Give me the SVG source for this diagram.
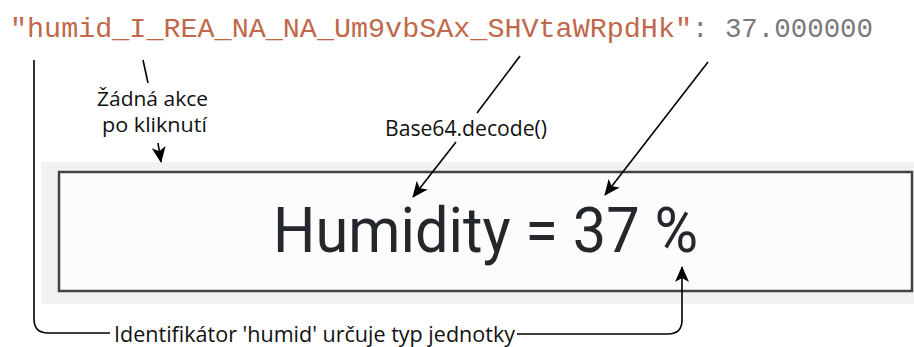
<svg xmlns="http://www.w3.org/2000/svg" width="914" height="347" viewBox="0 0 914 347">
<style>
.code{font-family:"Liberation Mono","DejaVu Sans Mono",monospace;font-size:28px}
.lbl{font-family:"Open Sans","Noto Sans",sans-serif;font-size:22px;fill:#111}
.sm{font-size:20px}
.con{fill:none;stroke:#000;stroke-width:1.6}
</style>
<defs>
<marker id="ah" viewBox="0 0 16 16" refX="15" refY="8" markerWidth="16" markerHeight="16" markerUnits="userSpaceOnUse" orient="auto">
<path d="M0,1 L16,8 L0,15 L4,8 Z" fill="#000"/>
</marker>
</defs>
<rect width="914" height="347" fill="#fff"/>
<g id="code">
<text class="code" x="10" y="37" textLength="682" lengthAdjust="spacingAndGlyphs" fill="#c0684a">"humid_I_REA_NA_NA_Um9vbSAx_SHVtaWRpdHk"</text>
<text class="code" x="692" y="37" textLength="181" lengthAdjust="spacingAndGlyphs" fill="#7a7a7a">: 37.000000</text>
</g>
<g id="widget">
<rect x="41" y="162" width="873" height="142" fill="#f2f2f2"/>
<rect x="59" y="172" width="853" height="119" fill="#fcfcfc" stroke="#444" stroke-width="2.5"/>
<text x="273" y="252" textLength="425" lengthAdjust="spacingAndGlyphs" font-family="Roboto,sans-serif" font-size="63" fill="#24282c">Humidity = 37 %</text>
</g>
<g id="label-akce">
<text class="lbl sm" x="97" y="106" textLength="111" lengthAdjust="spacingAndGlyphs">Žádná akce</text>
<text class="lbl sm" x="102" y="132" textLength="105" lengthAdjust="spacingAndGlyphs">po kliknutí</text>
</g>
<g id="label-base64">
<text class="lbl" x="385" y="136" textLength="162" lengthAdjust="spacingAndGlyphs">Base64.decode()</text>
</g>
<g id="label-ident">
<text class="lbl" x="114" y="342" textLength="401" lengthAdjust="spacingAndGlyphs">Identifikátor 'humid' určuje typ jednotky</text>
</g>
<g id="connectors">
<line class="con" x1="143" y1="60" x2="148" y2="83"/>
<line class="con" x1="158" y1="143" x2="161" y2="162" marker-end="url(#ah)"/>
<line class="con" x1="520" y1="56" x2="477" y2="113"/>
<line class="con" x1="456" y1="142" x2="413" y2="197" marker-end="url(#ah)"/>
<line class="con" x1="708" y1="62" x2="605" y2="195" marker-end="url(#ah)"/>
<path class="con" d="M34,60 V319 Q34,333 48,333 H110"/>
<path class="con" d="M517,334 H668 Q682,334 682,320 V267" marker-end="url(#ah)"/>
</g>
</svg>
